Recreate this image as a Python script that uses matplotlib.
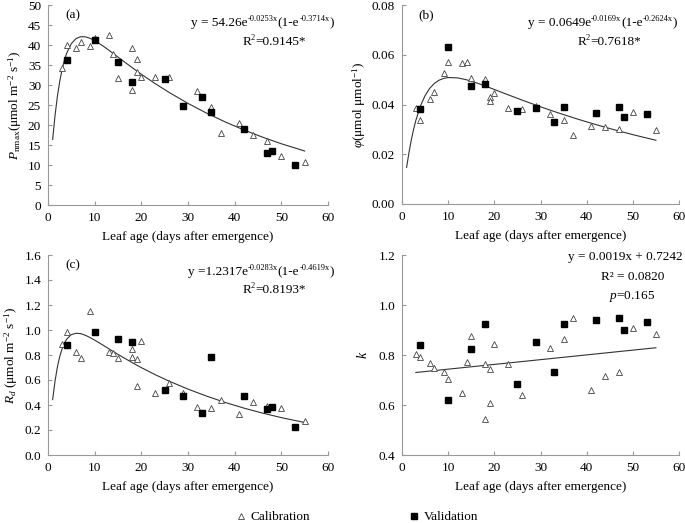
import numpy as np
import matplotlib
matplotlib.use('Agg')
import matplotlib.pyplot as plt
from matplotlib.lines import Line2D

plt.rcParams['font.family'] = ['Liberation Serif', 'DejaVu Serif']
plt.rcParams['mathtext.fontset'] = 'custom'
plt.rcParams['mathtext.rm'] = 'Liberation Serif'
plt.rcParams['mathtext.it'] = 'Liberation Serif:italic'
plt.rcParams['font.size'] = 9.5

# ---- data ----
# (a) Pnmax
a_cal_x = [3, 4, 6, 7, 9, 10, 13, 14, 15, 18, 18, 19, 19, 20, 23, 26, 32, 35, 37, 41, 44, 47, 50, 55]
a_cal_y = [34.3, 40.0, 39.2, 40.7, 39.8, 41.7, 42.4, 37.7, 31.7, 39.2, 28.7, 36.4, 33.2, 32.1, 32.1, 32.0,
           28.5, 24.4, 18.0, 20.6, 17.5, 16.0, 12.3, 10.7]
a_val_x = [4, 10, 15, 18, 25, 29, 33, 35, 42, 47, 48, 53]
a_val_y = [36.2, 41.2, 35.7, 30.7, 31.5, 24.7, 27.0, 23.2, 19.0, 12.9, 13.4, 10.1]

# (b) phi
b_cal_x = [3, 4, 6, 7, 9, 10, 13, 14, 15, 18, 19, 19, 20, 23, 26, 29, 32, 35, 37, 41, 44, 47, 50, 55]
b_cal_y = [0.0385, 0.0338, 0.0423, 0.0451, 0.0528, 0.0571, 0.0565, 0.0571, 0.0508, 0.0503, 0.0432, 0.0416,
           0.0448, 0.0387, 0.0383, 0.0395, 0.0363, 0.0336, 0.0277, 0.0313, 0.0310, 0.0300, 0.0370, 0.0298]
b_val_x = [4, 10, 15, 18, 25, 29, 33, 35, 42, 47, 48, 53]
b_val_y = [0.0381, 0.0632, 0.0474, 0.0483, 0.0372, 0.0385, 0.0328, 0.0389, 0.0367, 0.0388, 0.0348, 0.0362]

# (c) Rd
c_cal_x = [3, 4, 6, 7, 9, 13, 14, 15, 18, 18, 19, 19, 20, 23, 26, 29, 32, 35, 37, 41, 44, 47, 50, 55]
c_cal_y = [0.885, 0.985, 0.825, 0.775, 1.155, 0.825, 0.82, 0.78, 0.848, 0.787, 0.771, 0.552, 0.912, 0.493,
           0.579, 0.50, 0.384, 0.379, 0.44, 0.325, 0.427, 0.395, 0.379, 0.269]
c_val_x = [4, 10, 15, 18, 25, 29, 33, 35, 42, 47, 48, 53]
c_val_y = [0.88, 0.984, 0.925, 0.907, 0.52, 0.472, 0.333, 0.784, 0.472, 0.368, 0.381, 0.224]

# (d) k
d_cal_x = [3, 4, 6, 7, 9, 10, 13, 14, 15, 18, 18, 19, 19, 20, 23, 26, 32, 35, 37, 41, 44, 47, 50, 55]
d_cal_y = [0.803, 0.792, 0.769, 0.749, 0.732, 0.706, 0.649, 0.772, 0.876, 0.764, 0.543, 0.744, 0.609, 0.844,
           0.764, 0.641, 0.829, 0.864, 0.950, 0.661, 0.716, 0.732, 0.910, 0.886]
d_val_x = [4, 10, 15, 18, 25, 29, 33, 35, 42, 47, 48, 53]
d_val_y = [0.841, 0.621, 0.824, 0.924, 0.684, 0.852, 0.732, 0.924, 0.939, 0.948, 0.900, 0.931]

# fitted curves, tabulated
fit_x = [1, 1.5, 2, 2.5, 3, 3.5, 4, 5, 6, 7, 8, 9, 10, 12, 14, 16, 18, 20, 23, 26, 30, 34, 38, 42, 46, 50, 55]
a_fit = [16.41, 22.31, 27.04, 30.81, 33.79, 36.13, 37.94, 40.35, 41.60, 42.08, 42.05, 41.68, 41.10, 39.59,
         37.86, 36.10, 34.37, 32.69, 30.32, 28.11, 25.40, 22.96, 20.75, 18.75, 16.95, 15.31, 13.50]
b_fit_x = [1, 1.5, 2, 2.5, 3, 4, 5, 6, 7, 8, 9, 10, 12, 14, 16, 18, 20, 23, 26, 30, 34, 38, 42, 46, 50, 55]
b_fit = [0.01473, 0.02059, 0.02562, 0.02993, 0.03361, 0.03942, 0.04358, 0.04650, 0.04847, 0.04975, 0.05049,
         0.05084, 0.05071, 0.04993, 0.04878, 0.04745, 0.04604, 0.04389, 0.04178, 0.03907, 0.03654, 0.03415,
         0.03192, 0.02983, 0.02788, 0.02562]
c_fit = [0.443, 0.590, 0.702, 0.786, 0.848, 0.894, 0.927, 0.963, 0.974, 0.971, 0.958, 0.940, 0.919, 0.874,
         0.827, 0.783, 0.740, 0.699, 0.642, 0.590, 0.527, 0.471, 0.420, 0.375, 0.335, 0.299, 0.260]
d_fit_x = [3, 55]
d_fit = [0.730, 0.829]

xticks = [0, 10, 20, 30, 40, 50, 60]

W, H = 685, 523
fig = plt.figure(figsize=(W / 100, H / 100), dpi=100)
renderer = fig.canvas.get_renderer()


def make_ax(l, t, r, b):
    return fig.add_axes([l / W, 1 - b / H, (r - l) / W, (b - t) / H])


ax_a = make_ax(48, 5, 328, 205)
ax_b = make_ax(402, 5, 679, 204)
ax_c = make_ax(48, 255, 328, 455)
ax_d = make_ax(402, 255, 679, 455)

panels = [
    (ax_a, a_cal_x, a_cal_y, a_val_x, a_val_y, fit_x, a_fit, (0, 50), np.arange(0, 51, 5), '%d'),
    (ax_b, b_cal_x, b_cal_y, b_val_x, b_val_y, b_fit_x, b_fit, (0, 0.08), np.arange(0, 0.081, 0.02), '%.2f'),
    (ax_c, c_cal_x, c_cal_y, c_val_x, c_val_y, fit_x, c_fit, (0, 1.6), np.arange(0, 1.61, 0.2), '%.1f'),
    (ax_d, d_cal_x, d_cal_y, d_val_x, d_val_y, d_fit_x, d_fit, (0.4, 1.2), np.arange(0.4, 1.21, 0.2), '%.1f'),
]

for ax, cx, cy, vx, vy, fx, fy, ylim, yt, fmt in panels:
    ax.plot(fx, fy, color='#333333', lw=0.8, zorder=1)
    ax.plot(cx, cy, '^', ms=5, mfc='white', mec='#444444', mew=0.6, zorder=2, clip_on=False)
    ax.plot(vx, vy, 's', ms=5, color='black', zorder=3, clip_on=False)
    ax.set_xlim(0, 60)
    ax.set_ylim(*ylim)
    ax.set_xticks(xticks)
    ax.set_yticks(yt)
    ax.set_yticklabels([fmt % v for v in yt])
    for s in ['top', 'right']:
        ax.spines[s].set_visible(False)
    for s in ['left', 'bottom']:
        ax.spines[s].set_color('#999999')
        ax.spines[s].set_linewidth(0.8)
    ax.tick_params(direction='in', length=3, color='#999999', labelsize=9.5, pad=5)
    ax.set_xlabel('Leaf age (days after emergence)', fontsize=9.5, labelpad=5)

ax_a.set_ylabel(r'$P_{\rm nmax}$(μmol m$^{-2}$ s$^{-1}$)', fontsize=9.5, labelpad=3)
ax_b.set_ylabel(r'$\varphi$(μmol μmol$^{-1}$)', fontsize=9.5, labelpad=3)
ax_c.set_ylabel(r'$R_{d}$ (μmol m$^{-2}$ s$^{-1}$)', fontsize=9.5, labelpad=3)
ax_d.set_ylabel(r'$k$', fontsize=10, labelpad=6)

for ax, lab in [(ax_a, '(a)'), (ax_b, '(b)'), (ax_c, '(c)')]:
    ax.text(0.088, 0.95, lab, transform=ax.transAxes, ha='center', va='center', fontsize=9.5)


def rich_text(x, y, pieces, ha='right', size=9.5, sup_size=6.0):
    # pieces: list of (string, is_superscript); x, y in pixels from top-left, y is baseline
    arts = []
    cur = 0.0
    for s, sup in pieces:
        fs = sup_size if sup else size
        dy = 5.0 if sup else 0.0
        t = fig.text(0, 0, s, fontsize=fs, ha='left', va='baseline')
        w = t.get_window_extent(renderer).width
        arts.append((t, cur, dy))
        cur += w
    if ha == 'right':
        x0 = x - cur
    elif ha == 'center':
        x0 = x - cur / 2
    else:
        x0 = x
    for t, off, dy in arts:
        t.set_position(((x0 + off) / W, 1 - (y - dy) / H))


rich_text(334, 26, [('y = 54.26e', False), ('-0.0253x', True), ('(1-e', False), ('-0.3714x', True), (')', False)])
rich_text(274, 45, [('R', False), ('2', True), ('=0.9145*', False)], ha='center')
rich_text(677, 26, [('y = 0.0649e', False), ('-0.0169x', True), ('(1-e', False), ('-0.2624x', True), (')', False)])
rich_text(609, 45, [('R', False), ('2', True), ('=0.7618*', False)], ha='center')
rich_text(334, 275, [('y =1.2317e', False), ('-0.0283x', True), ('(1-e', False), ('-0.4619x', True), (')', False)])
rich_text(274, 293, [('R', False), ('2', True), ('=0.8193*', False)], ha='center')
rich_text(683, 260, [('y = 0.0019x + 0.7242', False)])
rich_text(633, 280, [('R² = 0.0820', False)], ha='center')
fig.text(632 / W, 1 - 299 / H, r'$p$=0.165', fontsize=9.5, ha='center', va='baseline')

handles = [Line2D([], [], ls='none', marker='^', ms=4, mfc='white', mec='#444444', mew=0.6),
           Line2D([], [], ls='none', marker='s', ms=4, color='black')]
fig.legend(handles, ['Calibration', 'Validation'], loc='center', bbox_to_anchor=(357 / W, 1 - 517 / H),
           ncol=2, frameon=False, fontsize=9.5, handlelength=0.8, handletextpad=0.3, columnspacing=7.5)

fig.savefig('out.png', dpi=100)
